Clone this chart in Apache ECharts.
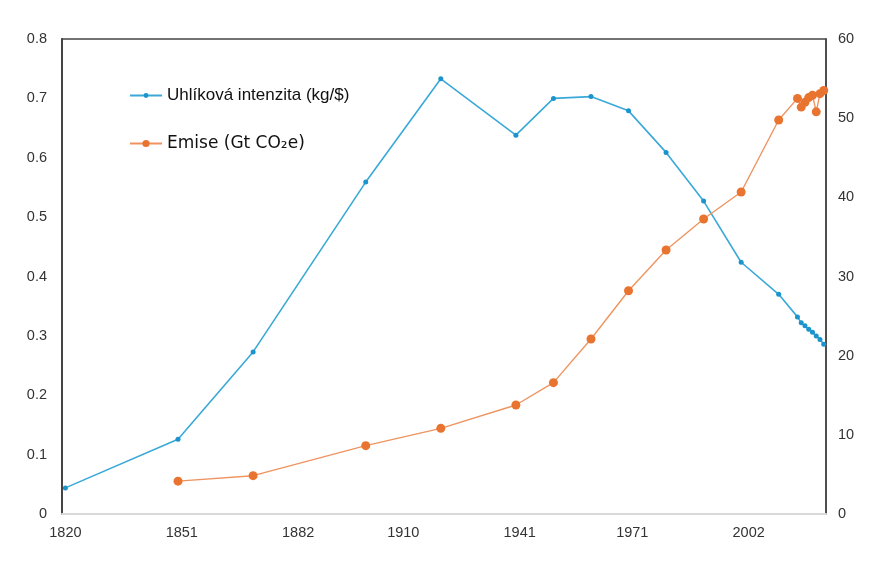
<!DOCTYPE html>
<html>
<head>
<meta charset="utf-8">
<script src="https://cdn.jsdelivr.net/npm/echarts@6/dist/echarts.min.js"></script>
<style>
html,body{margin:0;padding:0;background:#fff;}
#chart{width:882px;height:566px;}
</style>
</head>
<body>
<div id="chart"></div>
<script>
var intensityYears = [1820, 1850, 1870, 1900, 1920, 1940, 1950, 1960, 1970, 1980, 1990, 2000, 2010, 2015, 2016, 2017, 2018, 2019, 2020, 2021, 2022];
var intensityValues = [0.044, 0.126, 0.273, 0.559, 0.733, 0.638, 0.700, 0.703, 0.679, 0.609, 0.527, 0.424, 0.370, 0.332, 0.322, 0.317, 0.311, 0.306, 0.300, 0.294, 0.286];
var emissionYears = [1850, 1870, 1900, 1920, 1940, 1950, 1960, 1970, 1980, 1990, 2000, 2010, 2015, 2016, 2017, 2018, 2019, 2020, 2021, 2022];
var emissionValues = [4.15, 4.84, 8.63, 10.82, 13.77, 16.59, 22.1, 28.2, 33.35, 37.26, 40.67, 49.77, 52.5, 51.4, 52.0, 52.6, 52.9, 50.8, 53.1, 53.5];
var xTickLabels = [1820, 1851, 1882, 1910, 1941, 1971, 2002];
var seriesNames = ['Uhlíková intenzita (kg/$)', 'Emise (Gt CO₂e)'];

function pairs(xs, ys) { return xs.map(function (x, i) { return [x, ys[i]]; }); }

var axisFont = { color: '#333', fontFamily: 'Liberation Sans', fontSize: 14.5 };

var chart = echarts.init(document.getElementById('chart'));
chart.setOption({
  animation: false,
  backgroundColor: '#ffffff',
  grid: { left: 62, right: 56, top: 39, bottom: 52, show: true, borderColor: '#444444', borderWidth: 1.5, backgroundColor: 'transparent' },
  legend: [
    {
      left: 124, top: 82, itemWidth: 32, itemHeight: 6, itemGap: 5,
      data: [{ name: seriesNames[0] }],
      textStyle: { fontFamily: 'Liberation Sans', fontSize: 17, color: '#111' }
    },
    {
      left: 124, top: 130, itemWidth: 32, itemHeight: 9, itemGap: 5,
      data: [{ name: seriesNames[1] }],
      textStyle: { fontFamily: 'DejaVu Sans', fontSize: 17, color: '#111' }
    }
  ],
  xAxis: {
    type: 'value', min: 1819.1, max: 2022.6,
    axisLine: { show: true, lineStyle: { color: '#d9d9d9', width: 2 } },
    axisTick: { show: false },
    splitLine: { show: false },
    axisLabel: Object.assign({ customValues: xTickLabels, margin: 11, formatter: function (v) { return String(Math.round(v)); } }, axisFont)
  },
  yAxis: [
    {
      type: 'value', min: 0, max: 0.8, interval: 0.1, position: 'left',
      axisLine: { show: true, lineStyle: { color: '#444444', width: 2 } },
      axisTick: { show: false }, splitLine: { show: false },
      axisLabel: Object.assign({ margin: 15, formatter: function (v) { return v === 0 ? '0' : v.toFixed(1); } }, axisFont)
    },
    {
      type: 'value', min: 0, max: 60, interval: 10, position: 'right',
      axisLine: { show: true, lineStyle: { color: '#444444', width: 1.5 } },
      axisTick: { show: false }, splitLine: { show: false },
      axisLabel: Object.assign({ margin: 12 }, axisFont)
    }
  ],
  series: [
    {
      name: seriesNames[0], type: 'line', yAxisIndex: 0,
      data: pairs(intensityYears, intensityValues),
      symbol: 'circle', symbolSize: 5, showAllSymbol: true,
      lineStyle: { color: '#3aa9d8', width: 1.6 },
      itemStyle: { color: '#1b93cc' }
    },
    {
      name: seriesNames[1], type: 'line', yAxisIndex: 1,
      data: pairs(emissionYears, emissionValues),
      symbol: 'circle', symbolSize: 9, showAllSymbol: true,
      lineStyle: { color: '#ef9460', width: 1.4 },
      itemStyle: { color: '#e9742f' }
    }
  ]
});
</script>
</body>
</html>
